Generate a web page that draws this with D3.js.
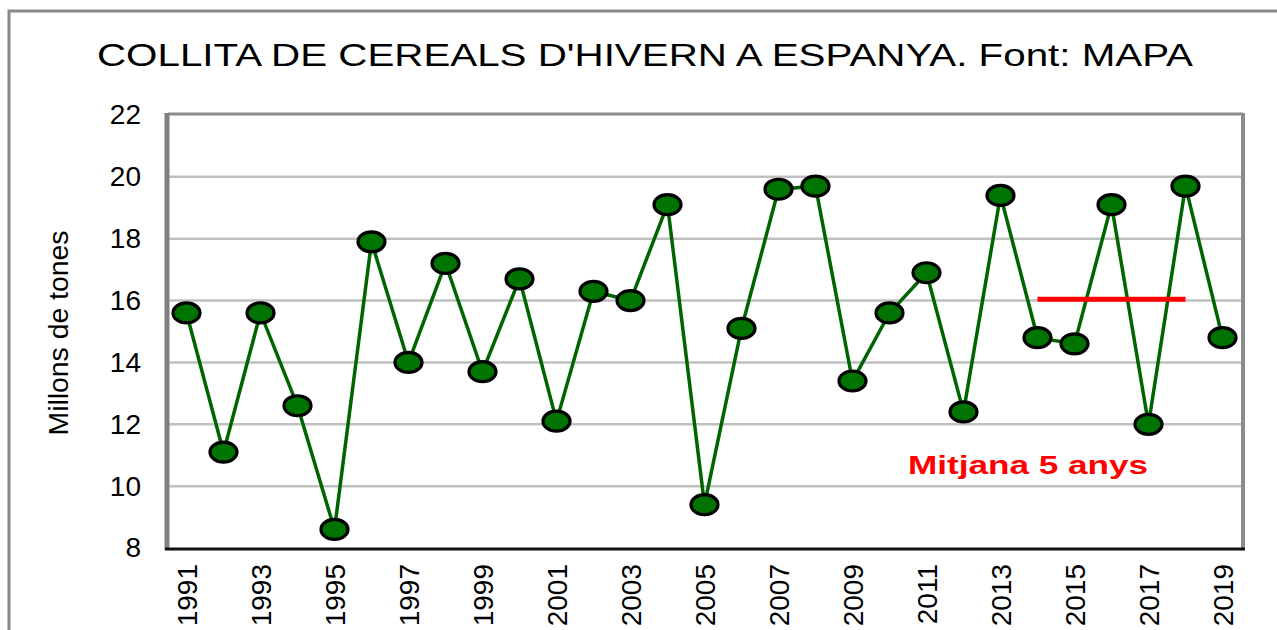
<!DOCTYPE html>
<html>
<head>
<meta charset="utf-8">
<script src="https://cdn.jsdelivr.net/npm/d3@7"></script>
<style>
  body { margin: 0; background: #fff; }
  text { font-family: "Liberation Sans", Arial, sans-serif; }
</style>
</head>
<body>
<script>
var years = d3.range(1991, 2020);
var harvest = [15.6, 11.1, 15.6, 12.6, 8.6, 17.9, 14.0, 17.2, 13.7, 16.7,
               12.1, 16.3, 16.0, 19.1, 9.4, 15.1, 19.6, 19.7, 13.4, 15.6,
               16.9, 12.4, 19.4, 14.8, 14.6, 19.1, 12.0, 19.7, 14.8];
var yTicks = [8, 10, 12, 14, 16, 18, 20, 22];
var avgYears = [2014, 2018];

var data = years.map(function(y, i) { return {year: y, value: harvest[i]}; });
var avgValue = d3.mean(data.filter(function(d) { return d.year >= avgYears[0] && d.year <= avgYears[1]; }),
                       function(d) { return d.value; });

var w = 1277, h = 630;
var plotLeft = 168, plotRight = 1241, plotTop = 115, plotBottom = 548;

var svg = d3.select('body').append('svg')
  .attr('width', w).attr('height', h);

// outer frame
svg.append('rect')
  .attr('x', 9).attr('y', 11).attr('width', 1300).attr('height', 700)
  .attr('fill', 'none').attr('stroke', '#888').attr('stroke-width', 3);

var xScale = d3.scalePoint()
  .domain(years)
  .range([plotLeft, plotRight])
  .padding(0.5);

var yScale = d3.scaleLinear()
  .domain([8, 22])
  .range([plotBottom, plotTop]);

// grid
svg.selectAll('line.grid')
  .data(yTicks.filter(function(t) { return t > 8 && t < 22; }))
  .enter().append('line')
  .attr('class', 'grid')
  .attr('x1', plotLeft).attr('x2', plotRight)
  .attr('y1', function(d) { return yScale(d); })
  .attr('y2', function(d) { return yScale(d); })
  .attr('stroke', '#c0c0c0').attr('stroke-width', 2.5);

// plot frame
svg.append('line').attr('x1', plotLeft).attr('x2', plotRight + 2).attr('y1', plotTop - 1).attr('y2', plotTop - 1)
  .attr('stroke', '#8c8c8c').attr('stroke-width', 3);
svg.append('line').attr('x1', plotRight + 2).attr('x2', plotRight + 2).attr('y1', plotTop - 2).attr('y2', plotBottom + 2)
  .attr('stroke', '#8c8c8c').attr('stroke-width', 4);
svg.append('line').attr('x1', plotLeft - 1).attr('x2', plotLeft - 1).attr('y1', plotTop - 2).attr('y2', plotBottom + 2)
  .attr('stroke', '#808080').attr('stroke-width', 5);
svg.append('line').attr('x1', plotLeft - 3).attr('x2', plotRight + 4).attr('y1', plotBottom + 1).attr('y2', plotBottom + 1)
  .attr('stroke', '#111').attr('stroke-width', 3);

// y axis
var yAxis = d3.axisLeft(yScale).tickValues(yTicks).tickSize(0).tickPadding(0);
var gy = svg.append('g')
  .attr('transform', 'translate(141,0)')
  .call(yAxis);
gy.select('.domain').remove();
gy.selectAll('text')
  .attr('font-size', '28px').attr('fill', '#000')
  .style('font-family', '"Liberation Sans", Arial, sans-serif');

// x axis
var xAxis = d3.axisBottom(xScale)
  .tickValues(years.filter(function(y) { return y % 2 === 1; }))
  .tickSize(0);
var gx = svg.append('g')
  .attr('transform', 'translate(0,' + (plotBottom + 16) + ')')
  .call(xAxis);
gx.select('.domain').remove();
gx.selectAll('text')
  .attr('font-size', '28px').attr('fill', '#000')
  .style('font-family', '"Liberation Sans", Arial, sans-serif')
  .attr('transform', 'rotate(-90)')
  .attr('text-anchor', 'end')
  .attr('x', 0).attr('y', 0).attr('dy', '0.35em');

// series line
var line = d3.line()
  .x(function(d) { return xScale(d.year); })
  .y(function(d) { return yScale(d.value); });

svg.append('path')
  .datum(data)
  .attr('d', line)
  .attr('fill', 'none')
  .attr('stroke', '#006400')
  .attr('stroke-width', 3.5);

// 5 year average
svg.append('line')
  .attr('x1', xScale(avgYears[0])).attr('x2', xScale(avgYears[1]))
  .attr('y1', yScale(avgValue)).attr('y2', yScale(avgValue))
  .attr('stroke', '#ff0000').attr('stroke-width', 5);

svg.selectAll('ellipse')
  .data(data)
  .enter().append('ellipse')
  .attr('cx', function(d) { return xScale(d.year); })
  .attr('cy', function(d) { return yScale(d.value); })
  .attr('rx', 13.5).attr('ry', 10)
  .attr('fill', '#007400')
  .attr('stroke', '#000').attr('stroke-width', 3.2);

svg.append('text')
  .attr('x', 908).attr('y', 474)
  .attr('textLength', 240).attr('lengthAdjust', 'spacingAndGlyphs')
  .attr('font-size', '26px').attr('font-weight', 'bold')
  .attr('fill', '#ff0000')
  .text('Mitjana 5 anys');

// title
svg.append('text')
  .attr('x', 97).attr('y', 66)
  .attr('textLength', 1096).attr('lengthAdjust', 'spacingAndGlyphs')
  .attr('font-size', '31px')
  .attr('fill', '#000')
  .text("COLLITA DE CEREALS D'HIVERN A ESPANYA. Font: MAPA");

// y label
svg.append('text')
  .attr('transform', 'translate(68,333) rotate(-90)')
  .attr('text-anchor', 'middle')
  .attr('textLength', 205).attr('lengthAdjust', 'spacingAndGlyphs')
  .attr('font-size', '27px')
  .attr('fill', '#000')
  .text('Millons de tones');
</script>
</body>
</html>
